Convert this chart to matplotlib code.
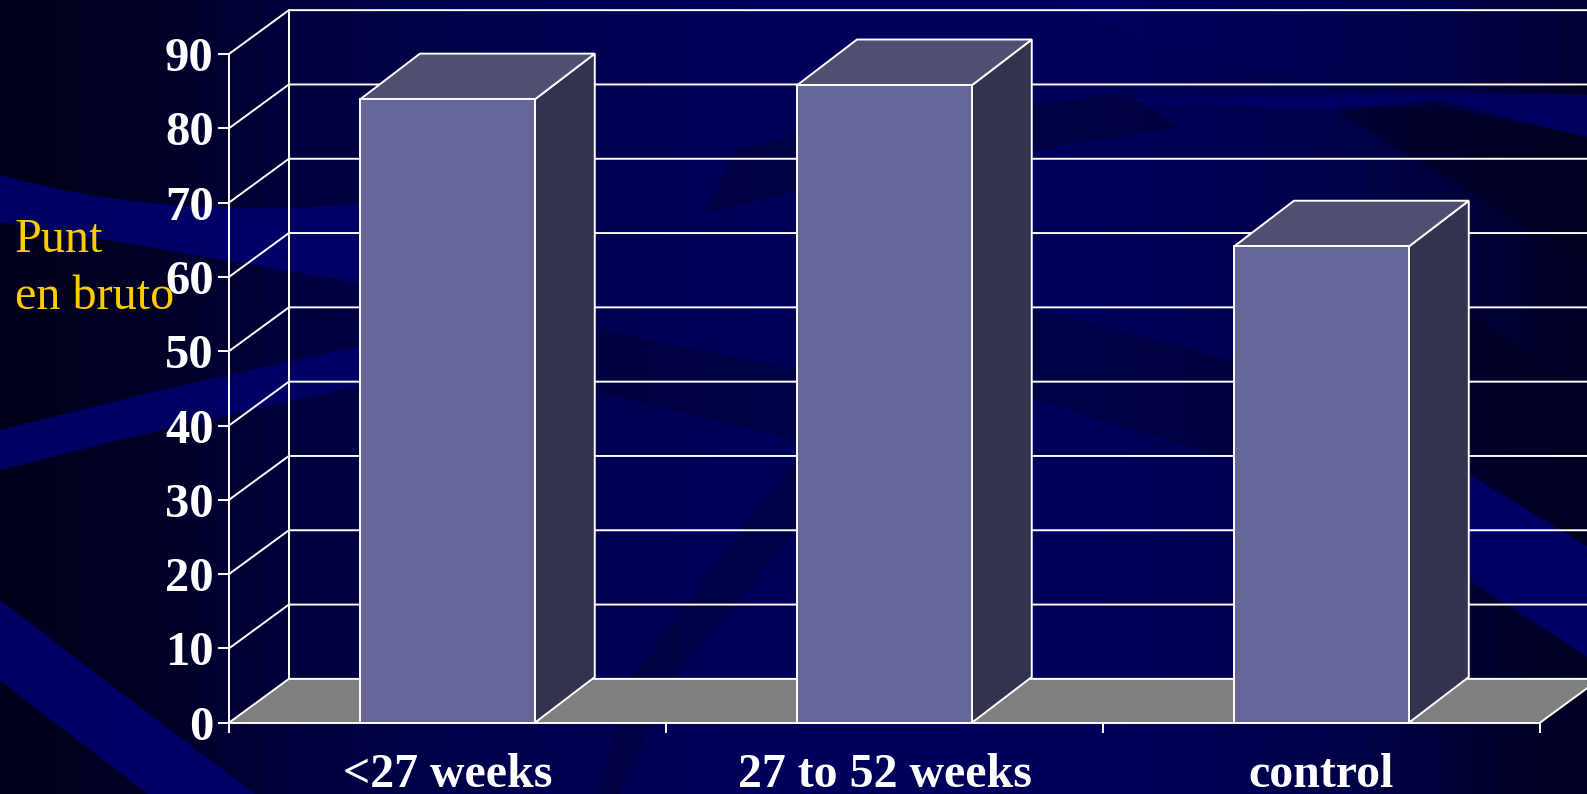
import matplotlib
matplotlib.use('Agg')
import matplotlib.pyplot as plt
from matplotlib.patches import PathPatch
from matplotlib.path import Path
import numpy as np

plt.rcParams['font.family'] = ['Liberation Serif', 'DejaVu Sans']

categories = ['<27 weeks', '27 to 52 weeks', 'control']
values = [83.9, 85.8, 64.1]
y_ticks = [0, 10, 20, 30, 40, 50, 60, 70, 80, 90]

W, H = 1587, 794
# pixel position of the value axis, everything else goes through the data scale
X0, PX_CAT = 229, 437
Y0, PX_UNIT = 722.7, 7.43
DEPTH_X, DEPTH_Y, BAR_DEPTH_Y = 0.137, 5.9, 6.15
BAR_W = 0.4
LW = 1.4

fig = plt.figure(figsize=(W / 100, H / 100), dpi=100)

# background slide art, in pixels
bg = fig.add_axes([0, 0, 1, 1])
bg.set_xlim(0, W)
bg.set_ylim(H, 0)
bg.axis('off')
grad_x = [0, 120, 300, 500, 750, 1100, 1300, 1450, 1587]
grad_b = [28, 34, 62, 78, 92, 92, 78, 60, 38]
blue = np.interp(np.arange(W), grad_x, grad_b) / 255
img = np.zeros((2, W, 3))
img[:, :, 2] = blue
bg.imshow(img, extent=(0, W, H, 0), aspect='auto', zorder=0)

M, C, L = Path.MOVETO, Path.CURVE3, Path.LINETO


def swoosh(verts, codes, color, alpha):
    codes = list(codes) + [Path.CLOSEPOLY]
    verts = list(verts) + [verts[0]]
    bg.add_patch(PathPatch(Path(verts, codes), fc=color, ec='none', alpha=alpha, zorder=1))


BRIGHT = '#00006A'
DARK = '#000018'
# left side bands
swoosh([(0, 175), (180, 225), (400, 200), (400, 290), (0, 222)],
       [M, C, C, L, L], BRIGHT, 0.95)
swoosh([(0, 430), (140, 395), (362, 345), (362, 385), (140, 435), (0, 470)],
       [M, L, L, L, L, L], BRIGHT, 0.9)
swoosh([(0, 600), (130, 700), (255, 794), (148, 794), (70, 735), (0, 680)],
       [M, C, C, L, C, C], BRIGHT, 0.95)
# centre darks
swoosh([(540, 318), (800, 370), (1037, 310), (1240, 362), (1240, 462), (1037, 400), (800, 440), (595, 392)],
       [M, L, L, L, L, L, L, L], DARK, 0.32)
swoosh([(796, 457), (796, 533), (673, 677), (620, 794), (597, 794), (632, 677)],
       [M, L, L, L, L, L], DARK, 0.28)
swoosh([(705, 214), (735, 150), (800, 135), (1126, 93), (1178, 127), (1037, 150), (800, 190)],
       [M, L, L, L, L, L, L], DARK, 0.35)
# right side
swoosh([(1055, 0), (1239, 75), (1587, 85), (1587, 0)], [M, L, L, L], '#000070', 0.2)
swoosh([(1100, 100), (1438, 92), (1587, 95), (1587, 137), (1438, 106), (1336, 110)],
       [M, L, L, L, L, L], BRIGHT, 0.85)
swoosh([(1336, 110), (1438, 100), (1587, 137), (1587, 262), (1412, 157)],
       [M, L, L, L, L], DARK, 0.45)
swoosh([(1440, 292), (1587, 393), (1587, 546), (1440, 457)], [M, L, L, L], DARK, 0.4)
swoosh([(1440, 457), (1587, 546), (1587, 657), (1440, 561)], [M, L, L, L], BRIGHT, 0.9)
swoosh([(1440, 561), (1587, 657), (1587, 794), (1440, 794)], [M, L, L, L], DARK, 0.2)

# chart axes fill the figure so the 3d wall can run past the last tick
ax = fig.add_axes([0, 0, 1, 1])
ax.patch.set_alpha(0)
ax.set_xlim(-X0 / PX_CAT, (W - X0) / PX_CAT)
ax.set_ylim(-(H - Y0) / PX_UNIT, Y0 / PX_UNIT)
xmax = ax.get_xlim()[1]
n = len(categories)

# floor
ax.fill([0, n, n + DEPTH_X, DEPTH_X], [0, 0, DEPTH_Y, DEPTH_Y], color='#808080', zorder=1, lw=0)
ax.plot([n, n + DEPTH_X], [0, DEPTH_Y], color='white', lw=LW, zorder=1.5)

# wall grid
for v in y_ticks:
    ax.plot([0, DEPTH_X, xmax], [v, v + DEPTH_Y, v + DEPTH_Y], color='white', lw=LW, zorder=1.5)
ax.plot([DEPTH_X, DEPTH_X], [DEPTH_Y, y_ticks[-1] + DEPTH_Y], color='white', lw=LW, zorder=1.5)

# bars
centers = np.arange(n) + 0.5
ax.bar(centers, values, width=BAR_W, color='#666699', edgecolor='white', lw=LW, zorder=3)
for c, v in zip(centers, values):
    left, right = c - BAR_W / 2, c + BAR_W / 2
    ax.fill([right, right + DEPTH_X, right + DEPTH_X, right],
            [0, BAR_DEPTH_Y, v + BAR_DEPTH_Y, v],
            fc='#333350', ec='white', lw=LW, zorder=2.8)
    ax.fill([left, right, right + DEPTH_X, left + DEPTH_X],
            [v, v, v + BAR_DEPTH_Y, v + BAR_DEPTH_Y],
            fc='#4F4F72', ec='white', lw=LW, zorder=2.8)

# axes lines and labels
for s in ['top', 'right']:
    ax.spines[s].set_visible(False)
ax.spines['left'].set_position(('data', 0))
ax.spines['bottom'].set_position(('data', 0))
ax.spines['left'].set_bounds(0, y_ticks[-1])
ax.spines['bottom'].set_bounds(0, n)
for s in ['left', 'bottom']:
    ax.spines[s].set_color('white')
    ax.spines[s].set_linewidth(LW)
    ax.spines[s].set_zorder(4)

ax.set_yticks(y_ticks)
ax.set_yticklabels([str(v) for v in y_ticks], fontweight='bold')
ax.tick_params(axis='y', colors='white', length=8, width=LW, pad=3, labelsize=35)
ax.set_xticks(range(n + 1))
ax.set_xticklabels([])
ax.tick_params(axis='x', which='major', colors='white', length=7.5, width=LW)
ax.set_xticks(centers, minor=True)
ax.set_xticklabels(categories, minor=True, fontweight='bold')
ax.tick_params(axis='x', which='minor', colors='white', length=0, pad=21.5, labelsize=34.5)

ax.text(15 / W, 1 - 251.5 / H, 'Punt', transform=ax.transAxes, color='#FFCC00', fontsize=34.7,
        ha='left', va='baseline')
ax.text(15 / W, 1 - 309 / H, 'en bruto', transform=ax.transAxes, color='#FFCC00', fontsize=34.7,
        ha='left', va='baseline')

fig.savefig('out.png', dpi=100)
